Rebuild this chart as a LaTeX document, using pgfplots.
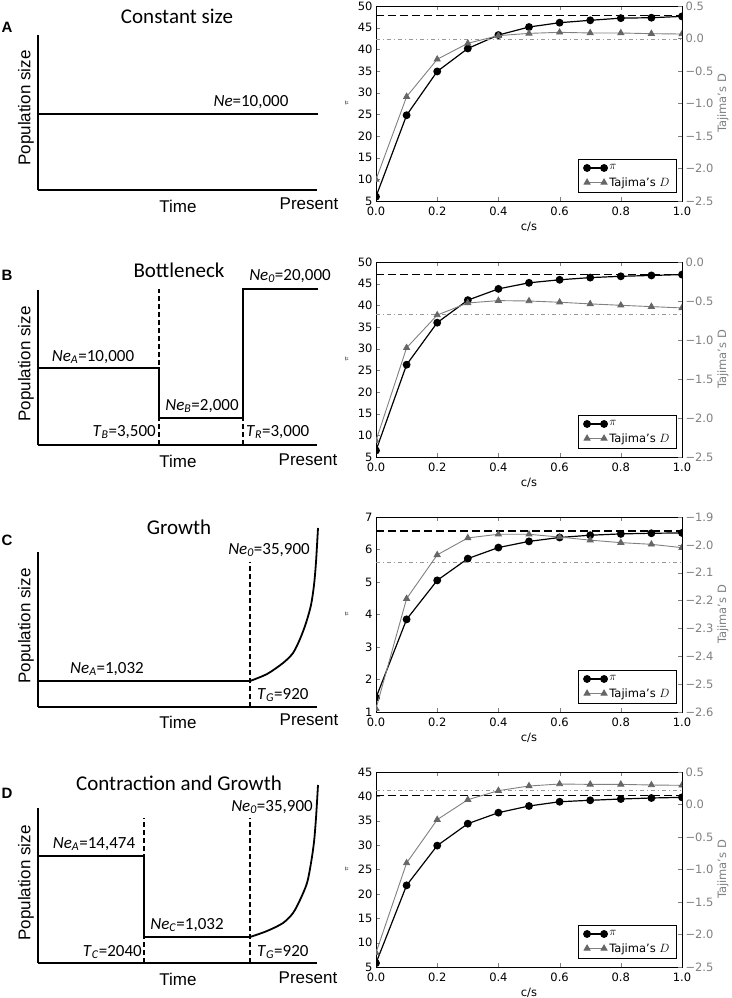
\documentclass[border=0pt]{standalone}
\usepackage{pgfplots}
\pgfplotsset{compat=1.18}
\usepackage{fontspec}
\setmainfont{DejaVu Sans}
\newfontfamily\arial{Liberation Sans}
\newfontfamily\calibri{Carlito}
\definecolor{tgray}{HTML}{808080}
\definecolor{tmark}{HTML}{666666}
\definecolor{refgray}{HTML}{999999}
\newcommand{\ff}[1]{\fontsize{#1}{#1}\selectfont}

\pgfplotsset{
  every tick label/.append style={font=\ff{11.5}},
  legend image code/.code={\draw[#1] plot coordinates {(0pt,0pt) (17pt,0pt)};},
  every axis legend/.append style={font=\ff{11.5}, nodes={font=\ff{11.5}}},
}
\pgfplotsset{
  rightpanel/.style={
    scale only axis, width=306pt, height=195pt,
    xmin=0, xmax=1, enlargelimits=false,
    tick align=inside, major tick length=4pt,
    label style={font=\ff{11.5}},
    axis line style={line width=0.9pt},
    xtick={0,0.2,0.4,0.6,0.8,1}, xticklabels={0.0,0.2,0.4,0.6,0.8,1.0},
    xticklabel style={inner ysep=0.5pt, yshift=-5.5pt},
    yticklabel style={inner ysep=0.5pt},
    clip marker paths=true,
  },
  leftaxis/.style={
    rightpanel, ytick pos=left, xtick pos=both,
    /pgf/number format/assume math mode=true,
    xlabel={c/s}, xlabel style={at={(axis description cs:0.5,-0.133)}, anchor=center},
    ylabel={$\pi$}, ylabel style={font=\ff{7}, at={(axis description cs:-0.095,0.5)}, anchor=center},
  },
  rightaxis/.style={
    rightpanel, axis x line=none, ytick pos=right, yticklabel pos=right,
    yticklabel style={text=tgray},
    ylabel={Tajima's D}, ylabel style={text=tgray, at={(axis description cs:1.134,0.5)}, anchor=center},
    legend style={at={(1,0)}, anchor=south east, xshift=-5pt, yshift=8pt, draw=black, line width=0.9pt,
      inner xsep=5pt, inner ysep=3pt, row sep=2pt, cells={anchor=west}},
  },
  pistyle/.style={black, line width=1.2pt, mark=*, mark size=3.3pt, mark options={solid, fill=black}},
  tdstyle/.style={tgray, line width=0.9pt, mark=triangle*, mark size=3.4pt, mark options={solid, fill=tmark, draw=tmark}},
  piref/.style={black, line width=1.1pt, dash pattern=on 8pt off 4pt, mark=none},
  tdref/.style={refgray, line width=0.9pt, dash pattern=on 4pt off 3pt on 1pt off 3pt, mark=none},
  leftpanel/.style={
    scale only axis, width=279pt, height=155pt,
    xmin=0, xmax=279, ymin=0, ymax=155, enlargelimits=false,
    axis lines=left, axis line style={-, line width=2.2pt},
    xtick=\empty, ytick=\empty, clip=false,
  },
  stepl/.style={black, line width=1.8pt, mark=none},
  dashl/.style={black, line width=1.3pt, dash pattern=on 5pt off 3pt, mark=none},
}

\begin{document}
\begin{tikzpicture}
\path[use as bounding box] (0pt,0pt) rectangle (731pt,-998pt);

% ---------------- Left A
\begin{axis}[leftpanel, at={(38pt,-190pt)}, anchor=south west]
\addplot[stepl] coordinates {(0,76) (280,76)};
\node[font=\calibri\ff{17}] at (axis cs:213,88) {\textit{Ne}=10,000};
\node[font=\calibri\ff{21}] at (axis cs:139,174) {Constant size};
\node[font=\arial\ff{17}] at (axis cs:140,-16) {Time};
\node[font=\arial\ff{17}] at (axis cs:271,-14) {Present};
\node[font=\arial\ff{17}, rotate=90] at (axis cs:-12,82) {Population size};
\node[font=\arial\bfseries\ff{15}] at (axis cs:-31,163) {A};
\end{axis}

% ---------------- Left B
\begin{axis}[leftpanel, at={(38pt,-445pt)}, anchor=south west]
\addplot[stepl] coordinates {(0,77) (121,77) (121,27) (205,27) (205,156) (280,156)};
\addplot[dashl] coordinates {(121,0) (121,156)};
\addplot[dashl] coordinates {(205,0) (205,27)};
\node[font=\calibri\ff{21}] at (axis cs:141,175) {Bottleneck};
\node[font=\calibri\ff{17}] at (axis cs:55,88) {\textit{Ne}\textsubscript{\textit{A}}=10,000};
\node[font=\calibri\ff{17}] at (axis cs:164,39) {\textit{Ne}\textsubscript{\textit{B}}=2,000};
\node[font=\calibri\ff{17}] at (axis cs:252,169) {\textit{Ne}\textsubscript{\textit{0}}=20,000};
\node[font=\calibri\ff{17}, anchor=east, inner sep=0pt] at (axis cs:118,13) {\textit{T}\textsubscript{\textit{B}}=3,500};
\node[font=\calibri\ff{17}, anchor=west, inner sep=0pt] at (axis cs:208,13) {\textit{T}\textsubscript{\textit{R}}=3,000};
\node[font=\arial\ff{17}] at (axis cs:140,-16) {Time};
\node[font=\arial\ff{17}] at (axis cs:270,-15) {Present};
\node[font=\arial\ff{17}, rotate=90] at (axis cs:-12,81) {Population size};
\node[font=\arial\bfseries\ff{15}] at (axis cs:-31,170) {B};
\end{axis}

% ---------------- Left C
\begin{axis}[leftpanel, at={(38pt,-707pt)}, anchor=south west]
\addplot[stepl] coordinates {(0,26) (212,26)};
\addplot[stepl, smooth, tension=0.5] coordinates {(212,26) (229,33) (245,44) (255,54) (262,68) (268,84) (273,102) (276,122) (278,145) (280,179)};
\addplot[dashl] coordinates {(212,0) (212,145)};
\node[font=\calibri\ff{21}] at (axis cs:141,180) {Growth};
\node[font=\calibri\ff{17}] at (axis cs:69,38) {\textit{Ne}\textsubscript{\textit{A}}=1,032};
\node[font=\calibri\ff{17}] at (axis cs:231,157) {\textit{Ne}\textsubscript{\textit{0}}=35,900};
\node[font=\calibri\ff{17}, anchor=west, inner sep=0pt] at (axis cs:219,12) {\textit{T}\textsubscript{\textit{G}}=920};
\node[font=\arial\ff{17}] at (axis cs:140,-15) {Time};
\node[font=\arial\ff{17}] at (axis cs:271,-13) {Present};
\node[font=\arial\ff{17}, rotate=90] at (axis cs:-12,81) {Population size};
\node[font=\arial\bfseries\ff{15}] at (axis cs:-31,167) {C};
\end{axis}

% ---------------- Left D
\begin{axis}[leftpanel, at={(38pt,-963pt)}, anchor=south west]
\addplot[stepl] coordinates {(0,107) (106,107) (106,26) (212,26)};
\addplot[stepl, smooth, tension=0.5] coordinates {(212,26) (229,32) (245,40) (255,50) (262,63) (269,80) (273,100) (276,121) (278,145) (280,178)};
\addplot[dashl] coordinates {(106,0) (106,145)};
\addplot[dashl] coordinates {(212,0) (212,145)};
\node[font=\calibri\ff{21}] at (axis cs:141,180) {Contraction and Growth};
\node[font=\calibri\ff{17}] at (axis cs:56,119) {\textit{Ne}\textsubscript{\textit{A}}=14,474};
\node[font=\calibri\ff{17}] at (axis cs:149,38) {\textit{Ne}\textsubscript{\textit{C}}=1,032};
\node[font=\calibri\ff{17}] at (axis cs:234,156) {\textit{Ne}\textsubscript{\textit{0}}=35,900};
\node[font=\calibri\ff{17}, anchor=east, inner sep=0pt] at (axis cs:104,11) {\textit{T}\textsubscript{\textit{C}}=2040};
\node[font=\calibri\ff{17}, anchor=west, inner sep=0pt] at (axis cs:219,11) {\textit{T}\textsubscript{\textit{G}}=920};
\node[font=\arial\ff{17}] at (axis cs:140,-16) {Time};
\node[font=\arial\ff{17}] at (axis cs:270,-15) {Present};
\node[font=\arial\ff{17}, rotate=90] at (axis cs:-12,80) {Population size};
\node[font=\arial\bfseries\ff{15}] at (axis cs:-31,170) {D};
\end{axis}

% ================= Right A
\begin{axis}[leftaxis, at={(376pt,-201pt)}, anchor=south west, ymin=5, ymax=50, ytick={5,10,...,50}]
\addplot[piref] coordinates {(0,47.9) (1,47.9)};
\addplot[pistyle] coordinates {(0,6.0) (0.1,24.8) (0.2,34.9) (0.3,40.2) (0.4,43.3) (0.5,45.15) (0.6,46.15) (0.7,46.7) (0.8,47.2) (0.9,47.3) (1.0,47.6)};
\end{axis}
\begin{axis}[rightaxis, at={(376pt,-201pt)}, anchor=south west, ymin=-2.5, ymax=0.5,
  ytick={-2.5,-2,-1.5,-1,-0.5,0,0.5}, yticklabels={−2.5,−2.0,−1.5,−1.0,−0.5,0.0,0.5}]
\addlegendimage{pistyle}
\addlegendentry{\ff{11.5}$\pi$}
\addplot[tdref, forget plot] coordinates {(0,-0.02) (1,-0.02)};
\addplot[tdstyle] coordinates {(0,-2.17) (0.1,-0.895) (0.2,-0.32) (0.3,-0.074) (0.4,0.044) (0.5,0.079) (0.6,0.095) (0.7,0.085) (0.8,0.085) (0.9,0.074) (1.0,0.069)};
\addlegendentry{\ff{11.5}Tajima's $D$}
\end{axis}

% ================= Right B
\begin{axis}[leftaxis, at={(376pt,-457pt)}, anchor=south west, ymin=5, ymax=50, ytick={5,10,...,50}]
\addplot[piref] coordinates {(0,47.2) (1,47.2)};
\addplot[pistyle] coordinates {(0,6.5) (0.1,26.3) (0.2,36.0) (0.3,41.2) (0.4,43.8) (0.5,45.2) (0.6,45.9) (0.7,46.4) (0.8,46.7) (0.9,46.9) (1.0,47.1)};
\end{axis}
\begin{axis}[rightaxis, at={(376pt,-457pt)}, anchor=south west, ymin=-2.5, ymax=0,
  ytick={-2.5,-2,-1.5,-1,-0.5,0}, yticklabels={−2.5,−2.0,−1.5,−1.0,−0.5,0.0}]
\addlegendimage{pistyle}
\addlegendentry{\ff{11.5}$\pi$}
\addplot[tdref, forget plot] coordinates {(0,-0.67) (1,-0.67)};
\addplot[tdstyle] coordinates {(0,-2.29) (0.1,-1.10) (0.2,-0.68) (0.3,-0.525) (0.4,-0.495) (0.5,-0.50) (0.6,-0.516) (0.7,-0.537) (0.8,-0.555) (0.9,-0.572) (1.0,-0.589)};
\addlegendentry{\ff{11.5}Tajima's $D$}
\end{axis}

% ================= Right C
\begin{axis}[leftaxis, at={(376pt,-712pt)}, anchor=south west, ymin=1, ymax=7, ytick={1,2,...,7}]
\addplot[piref] coordinates {(0,6.57) (1,6.57)};
\addplot[pistyle] coordinates {(0,1.44) (0.1,3.85) (0.2,5.05) (0.3,5.72) (0.4,6.06) (0.5,6.25) (0.6,6.37) (0.7,6.44) (0.8,6.48) (0.9,6.50) (1.0,6.51)};
\end{axis}
\begin{axis}[rightaxis, at={(376pt,-712pt)}, anchor=south west, ymin=-2.6, ymax=-1.9,
  ytick={-2.6,-2.5,-2.4,-2.3,-2.2,-2.1,-2.0,-1.9}, yticklabels={−2.6,−2.5,−2.4,−2.3,−2.2,−2.1,−2.0,−1.9}]
\addlegendimage{pistyle}
\addlegendentry{\ff{11.5}$\pi$}
\addplot[tdref, forget plot] coordinates {(0,-2.063) (1,-2.063)};
\addplot[tdstyle] coordinates {(0,-2.588) (0.1,-2.193) (0.2,-2.036) (0.3,-1.975) (0.4,-1.962) (0.5,-1.962) (0.6,-1.972) (0.7,-1.983) (0.8,-1.992) (0.9,-1.998) (1.0,-2.010)};
\addlegendentry{\ff{11.5}Tajima's $D$}
\end{axis}

% ================= Right D
\begin{axis}[leftaxis, at={(376pt,-967pt)}, anchor=south west, ymin=5, ymax=45, ytick={5,10,...,45}]
\addplot[piref] coordinates {(0,40.15) (1,40.15)};
\addplot[pistyle] coordinates {(0,5.8) (0.1,21.75) (0.2,29.9) (0.3,34.4) (0.4,36.66) (0.5,38.03) (0.6,38.9) (0.7,39.2) (0.8,39.46) (0.9,39.67) (1.0,39.8)};
\end{axis}
\begin{axis}[rightaxis, at={(376pt,-967pt)}, anchor=south west, ymin=-2.5, ymax=0.5,
  ytick={-2.5,-2,-1.5,-1,-0.5,0,0.5}, yticklabels={−2.5,−2.0,−1.5,−1.0,−0.5,0.0,0.5}]
\addlegendimage{pistyle}
\addlegendentry{\ff{11.5}$\pi$}
\addplot[tdref, forget plot] coordinates {(0,0.218) (1,0.218)};
\addplot[tdstyle] coordinates {(0,-2.28) (0.1,-0.90) (0.2,-0.233) (0.3,0.074) (0.4,0.213) (0.5,0.285) (0.6,0.315) (0.7,0.31) (0.8,0.31) (0.9,0.30) (1.0,0.295)};
\addlegendentry{\ff{11.5}Tajima's $D$}
\end{axis}
\end{tikzpicture}
\end{document}
